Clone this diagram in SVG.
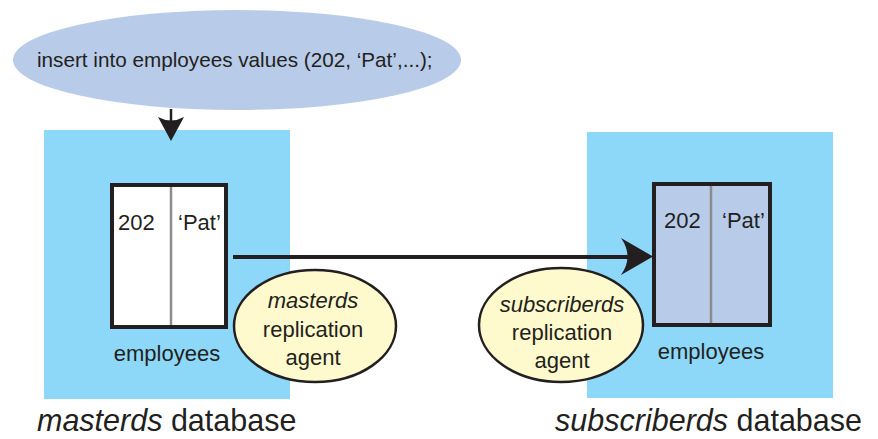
<svg xmlns="http://www.w3.org/2000/svg" width="878" height="439" viewBox="0 0 878 439">
<style>
  text { font-family: "Liberation Sans", Arial, sans-serif; fill: #231f20; }
  .db { fill: #8dd8f8; }
  .tbl { stroke: #231f20; stroke-width: 4; }
  .div { stroke: #8c8c8c; stroke-width: 2.5; }
  .agent { fill: #fffacd; stroke: #231f20; stroke-width: 2.5; }
  .lbl { font-size: 22px; }
  .big { font-size: 30.5px; }
  .it { font-style: italic; }
  .conn { stroke: #231f20; fill: none; }
  .head { fill: #231f20; }
</style>
<rect width="878" height="439" fill="#ffffff"/>

<g id="masterds-db">
  <rect class="db" x="44" y="130" width="246" height="269"/>
  <text class="big" x="37" y="431"><tspan class="it">masterds</tspan> database</text>
</g>

<g id="subscriberds-db">
  <rect class="db" x="587" y="132" width="246" height="266"/>
  <text class="big" x="862" y="431" text-anchor="end"><tspan class="it">subscriberds</tspan> database</text>
</g>

<g id="insert-stmt">
  <ellipse cx="237" cy="60" rx="224" ry="50" fill="#b8cbe9"/>
  <text x="37" y="67" style="font-size:20.7px">insert into employees values (202, ‘Pat’,...);</text>
</g>

<g id="master-table">
  <rect class="tbl" x="112" y="185" width="114" height="142" fill="#ffffff"/>
  <line class="div" x1="171" y1="187" x2="171" y2="325"/>
  <text class="lbl" x="118" y="230">202</text>
  <text class="lbl" x="178" y="230">‘Pat’</text>
  <text class="lbl" x="167" y="361" text-anchor="middle">employees</text>
</g>

<g id="subscriber-table">
  <rect class="tbl" x="654" y="184" width="116" height="141" fill="#b8cbe9"/>
  <line class="div" x1="711" y1="186" x2="711" y2="323"/>
  <text class="lbl" x="664" y="228">202</text>
  <text class="lbl" x="722" y="228">‘Pat’</text>
  <text class="lbl" x="711" y="359" text-anchor="middle">employees</text>
</g>

<g id="connectors">
  <line class="conn" x1="171" y1="109" x2="171" y2="124" stroke-width="2.5"/>
  <path class="head" d="M171,141 L158,117 Q171,124 184,117 Z"/>
  <line class="conn" x1="233" y1="257" x2="634" y2="257" stroke-width="4"/>
  <path class="head" d="M653,256.5 L621,238 Q634,256.5 621,275 Z"/>
</g>

<g id="masterds-agent">
  <ellipse class="agent" cx="315" cy="326" rx="81" ry="56"/>
  <text class="lbl it" x="313" y="308" text-anchor="middle">masterds</text>
  <text class="lbl" x="313" y="337" text-anchor="middle">replication</text>
  <text class="lbl" x="313" y="365" text-anchor="middle">agent</text>
</g>

<g id="subscriberds-agent">
  <ellipse class="agent" cx="561" cy="325" rx="82" ry="57"/>
  <text class="lbl it" x="562" y="312" text-anchor="middle">subscriberds</text>
  <text class="lbl" x="562" y="340" text-anchor="middle">replication</text>
  <text class="lbl" x="562" y="368" text-anchor="middle">agent</text>
</g>
</svg>
